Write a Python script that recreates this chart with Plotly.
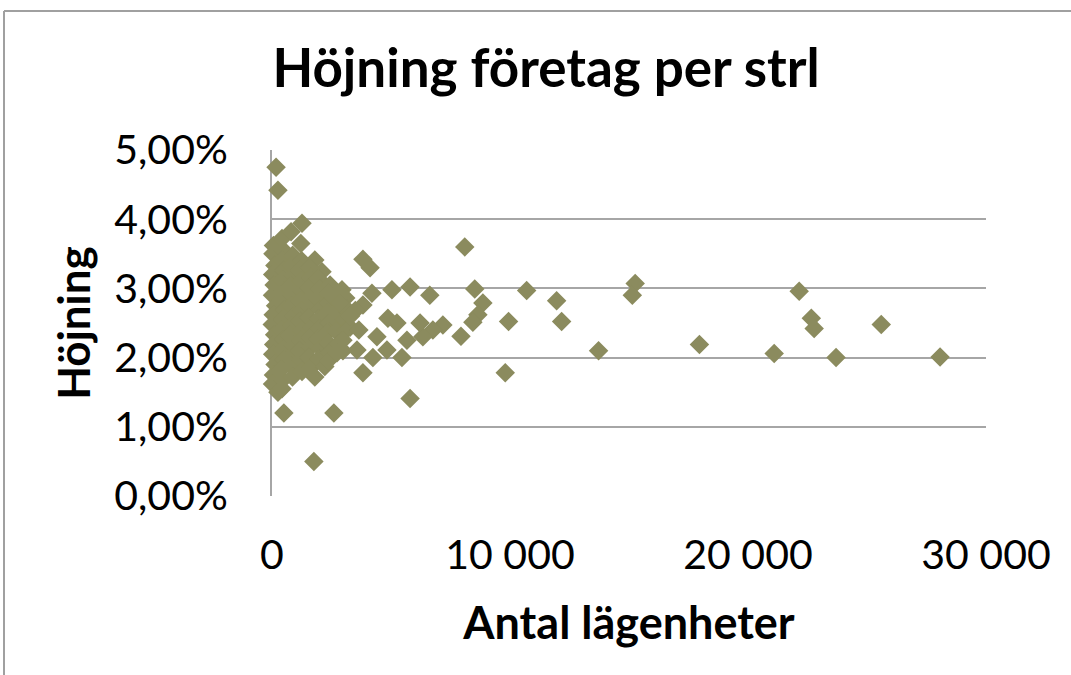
import plotly.graph_objects as go

# Antal lägenheter (x) and Höjning (y, as fraction)
core_x = [60, 40, 120, 30, 90, 20, 150, 50, 10, 110, 70, 30, 130, 60, 20, 250,
          420, 480, 430, 500, 440, 470, 390, 520, 450, 400, 490, 430, 510, 380, 460, 420,
          800, 870, 820, 900, 780, 860, 810, 880, 830, 760, 900, 850, 790, 860,
          1260, 1210, 1250, 1180, 1230, 1280, 1190, 1240, 1170, 1260, 1210, 1150, 1240, 1260,
          1800, 1580, 1630, 1560, 1650, 1600, 1540, 1670, 1590, 1620, 1550, 1640, 1800,
          2100, 1950, 2000, 1930, 2020, 1960, 1990, 1940, 2040, 1970, 2220,
          2440, 2340, 2380, 2310, 2400, 2330, 2370, 2420, 2350,
          2940, 2720, 2780, 2700, 2800, 2980,
          3100, 3150, 3050, 3120]
core_y = [0.0362, 0.0350, 0.0333, 0.0320, 0.0305, 0.0290, 0.0275, 0.0262, 0.0248, 0.0233, 0.0219, 0.0205, 0.0190, 0.0175, 0.0162, 0.0150,
          0.0372, 0.0355, 0.0341, 0.0326, 0.0312, 0.0297, 0.0284, 0.0269, 0.0255, 0.0240, 0.0226, 0.0211, 0.0197, 0.0183, 0.0168, 0.0155,
          0.0382, 0.0348, 0.0333, 0.0319, 0.0304, 0.0290, 0.0275, 0.0260, 0.0246, 0.0232, 0.0218, 0.0203, 0.0188, 0.0172,
          0.0394, 0.0365, 0.0340, 0.0326, 0.0311, 0.0296, 0.0282, 0.0268, 0.0253, 0.0239, 0.0225, 0.0210, 0.0196, 0.0180,
          0.0341, 0.0330, 0.0316, 0.0301, 0.0287, 0.0272, 0.0258, 0.0244, 0.0229, 0.0215, 0.0200, 0.0186, 0.0172,
          0.0324, 0.0314, 0.0299, 0.0285, 0.0270, 0.0256, 0.0242, 0.0227, 0.0213, 0.0198, 0.0187,
          0.0305, 0.0293, 0.0279, 0.0264, 0.0250, 0.0236, 0.0221, 0.0207, 0.0195,
          0.0298, 0.0266, 0.0252, 0.0238, 0.0220, 0.0210,
          0.0286, 0.0270, 0.0255, 0.0240]

spread_x = [170, 250, 500, 1760, 2600, 5800, 9800, 8100, 13720, 15260, 15140, 17960,
            21100, 22150, 22660, 22780, 23700, 25600, 28070, 10700, 11960, 12170, 9940,
            8520, 8860, 8650, 8440, 7940, 7180, 6630, 6760, 6340, 6220, 5800, 5040,
            5670, 5460, 5250, 4870, 4830, 4410, 4240, 4200, 3820, 3820, 3820, 4120,
            3280, 2980, 3570, 2730, 2560, 2860, 3500, 3300, 3650]
spread_y = [0.0475, 0.0442, 0.0120, 0.0050, 0.0120, 0.0141, 0.0178, 0.0360, 0.0210, 0.0307, 0.0290, 0.0219,
            0.0206, 0.0296, 0.0257, 0.0242, 0.0200, 0.0248, 0.0201, 0.0297, 0.0282, 0.0252, 0.0252,
            0.0299, 0.0279, 0.0262, 0.0251, 0.0231, 0.0247, 0.0290, 0.0240, 0.0230, 0.0250, 0.0302, 0.0298,
            0.0225, 0.0200, 0.0250, 0.0257, 0.0211, 0.0230, 0.0200, 0.0293, 0.0276, 0.0178, 0.0342, 0.0330,
            0.0244, 0.0225, 0.0211, 0.0207, 0.0288, 0.0279, 0.0268, 0.0260, 0.0240]

antal = core_x + spread_x
hojning = core_y + spread_y

x_ticks = [0, 10000, 20000, 30000]
y_ticks = [0, 0.01, 0.02, 0.03, 0.04, 0.05]

GRID = "#a6a6a6"
FONT = "Lato"

fig = go.Figure(go.Scatter(
    x=antal, y=hojning, mode="markers",
    marker=dict(symbol="diamond", size=15, color="#8b8b5e", line=dict(width=0)),
    cliponaxis=False, showlegend=False,
))

bx = (4 - 272) / 714
by = (496 - 11) / 346

fig.update_layout(
    width=1071, height=675,
    margin=dict(l=272, r=85, t=150, b=179),
    paper_bgcolor="white", plot_bgcolor="white",
    separators=", ",
    font=dict(family=FONT, color="black"),
    title=dict(text="<b>Höjning företag per strl</b>", font=dict(size=53, family=FONT),
               x=546/1071, xref="container", xanchor="center",
               y=1 - 68/675, yref="container", yanchor="middle"),
    xaxis=dict(range=[0, 30000], tickvals=x_ticks, tickformat=",d",
               showgrid=False, zeroline=False, showline=False,
               ticks="", ticklabelstandoff=31, tickfont=dict(size=41),
               title=dict(text="<b>Antal lägenheter</b>", font=dict(size=45), standoff=30),
               layer="below traces"),
    yaxis=dict(range=[0, 0.05], tickvals=y_ticks, tickformat=".2%",
               showgrid=True, gridcolor=GRID, gridwidth=2, zeroline=False,
               showline=True, linecolor=GRID, linewidth=2,
               ticks="", ticklabelstandoff=34, tickfont=dict(size=41),
               title=dict(text="<b>Höjning</b>", font=dict(size=44), standoff=10),
               layer="below traces"),
    shapes=[
        dict(type="line", xref="paper", yref="paper", x0=bx, x1=bx, y0=-1.0, y1=by,
             line=dict(color="#a0a0a0", width=2), layer="below"),
        dict(type="line", xref="paper", yref="paper", x0=bx, x1=1.3, y0=by, y1=by,
             line=dict(color="#a0a0a0", width=2), layer="below"),
    ],
)

fig.write_html("out.html", config={"displayModeBar": False},
               post_script="document.body.style.margin='0';")
